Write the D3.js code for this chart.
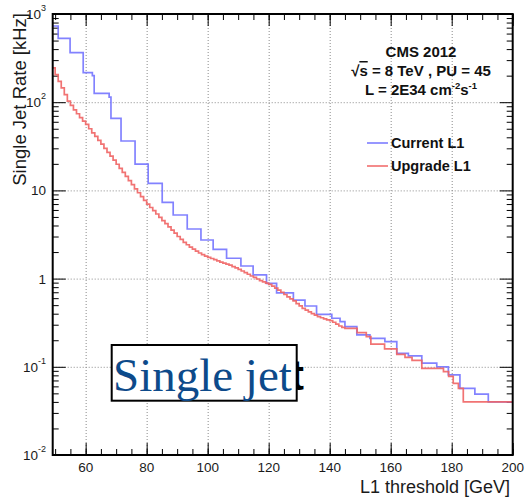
<!DOCTYPE html>
<html>
<head>
<meta charset="utf-8">
<script src="https://cdn.jsdelivr.net/npm/d3@7"></script>
<style>
  body { margin: 0; background: #fff; }
  svg { display: block; font-family: "Liberation Sans", Arial, sans-serif; }
  .grid line { stroke: #8a8a8a; stroke-dasharray: 1,2; stroke-width: 1; }
  .grid .domain, .ticks .domain { display: none; }
  .ticks line { stroke: #000; stroke-width: 1; }
</style>
</head>
<body>
<svg id="chart" width="526" height="499"></svg>
<script>
// ---- data ----
// Upgrade L1 (red): bin low edges [GeV] and rate [kHz]
const redEdges = [49,50,51,52,53,54,55,56,57,58,59,60,61,62,63,64,65,66,67,68,69,70,71,72,73,74,75,76,77,78,79,
  80,81,82,83,84,85,86,87,88,89,90,91,92,93,94,95,96,97,98,99,100,101,102,103,104,105,106,107,108,109,
  110,111,112,113,114,115,116,117,118,119,120,121,122,123,124,125,126,127,128,129,130,131,132,133,134,
  135,136,137,138,139,140,141,142,143,144,145,149,152,153.5,158,162,164.7,167,170.2,177.3,179,180.5,182.2,183.8];
const redRates = [245,205,172,145,122,103,92,82,74,67,61,56,50,45,41,37,33.5,30,27,24.5,22,19.8,17.8,16,14.4,12.9,11.6,10.4,9.4,8.5,7.7,
  7.0,6.4,5.9,5.4,4.95,4.55,4.2,3.85,3.55,3.27,3.0,2.78,2.58,2.42,2.28,2.16,2.05,1.95,1.87,1.80,1.74,1.69,1.64,1.59,1.54,1.50,1.46,1.42,1.37,1.32,
  1.27,1.22,1.17,1.12,1.07,1.03,0.99,0.95,0.92,0.89,0.86,0.82,0.78,0.74,0.70,0.66,0.62,0.59,0.56,0.52,0.49,0.46,0.44,0.42,0.40,
  0.385,0.37,0.36,0.35,0.34,0.333,0.32,0.305,0.29,0.28,0.273,0.244,0.22,0.181,0.16,0.138,0.128,0.118,0.096,0.088,0.078,0.065,0.057,0.040];

// Current L1 (blue)
const blueEdges = [49,51.0,54.9,59.2,62.2,62.8,67.7,68.3,71.6,76.2,80.5,85.1,88.7,93.3,97.8,101.8,106.2,110.9,114.9,
  119.3,122.6,128.1,131.9,135.7,140.7,143.4,145.0,148.9,153.2,158.1,162.0,165.8,170.2,175.1,178.9,182.7,187.6,192.0];
const blueRates = [731,530,364,216,200,126,114,65.6,36.3,19.9,12.0,7.33,5.26,3.65,2.74,2.15,1.70,1.39,1.10,
  0.885,0.69,0.57,0.489,0.394,0.355,0.325,0.285,0.23,0.21,0.193,0.142,0.133,0.11,0.100,0.081,0.057,0.049,0.040];

const xMajor = [60,80,100,120,140,160,180,200];
const xMinor = d3.range(50,201,5);
const yDecades = [-2,-1,0,1,2,3];
const legendNames = ["Current L1","Upgrade L1"];
const legendColors = ["#7474ff","#f06464"];

// ---- layout ----
const W = 526, H = 499;
const margin = {top: 14, right: 13.3, bottom: 44, left: 52.7};
const iw = W - margin.left - margin.right;
const ih = H - margin.top - margin.bottom;

const x = d3.scaleLinear().domain([49.2, 200]).range([margin.left, margin.left + iw]);
const y = d3.scaleLog().domain([0.01, 1000]).range([margin.top + ih, margin.top]);

const svg = d3.select('#chart');

svg.append('defs').append('clipPath').attr('id','plot')
  .append('rect').attr('x', margin.left).attr('y', margin.top).attr('width', iw).attr('height', ih);

// grid
svg.append('g').attr('class','grid')
  .attr('transform', `translate(0,${margin.top + ih})`)
  .call(d3.axisBottom(x).tickValues(xMajor.slice(0,-1)).tickSize(-ih).tickFormat(''));
svg.append('g').attr('class','grid')
  .attr('transform', `translate(${margin.left},0)`)
  .call(d3.axisLeft(y).tickValues([0.1,1,10,100]).tickSize(-iw).tickFormat(''));

// minor y values
const yMinor = [];
yDecades.slice(0,-1).forEach(e => { for (let k = 2; k <= 9; k++) yMinor.push(k * Math.pow(10, e)); });
const yMajor = yDecades.map(e => Math.pow(10, e));

// ticks inside frame (ROOT style)
const tk = (axis, tr) => svg.append('g').attr('class','ticks').attr('transform', tr).call(axis);
tk(d3.axisBottom(x).tickValues(xMajor).tickSize(-12).tickFormat(''), `translate(0,${margin.top+ih})`);
tk(d3.axisBottom(x).tickValues(xMinor).tickSize(-6).tickFormat(''), `translate(0,${margin.top+ih})`);
tk(d3.axisTop(x).tickValues(xMajor).tickSize(-12).tickFormat(''), `translate(0,${margin.top})`);
tk(d3.axisTop(x).tickValues(xMinor).tickSize(-6).tickFormat(''), `translate(0,${margin.top})`);
tk(d3.axisLeft(y).tickValues(yMajor).tickSize(-13).tickFormat(''), `translate(${margin.left},0)`);
tk(d3.axisLeft(y).tickValues(yMinor).tickSize(-6).tickFormat(''), `translate(${margin.left},0)`);
tk(d3.axisRight(y).tickValues(yMajor).tickSize(-13).tickFormat(''), `translate(${margin.left+iw},0)`);
tk(d3.axisRight(y).tickValues(yMinor).tickSize(-6).tickFormat(''), `translate(${margin.left+iw},0)`);

// histograms
const line = d3.line().x(d => x(d[0])).y(d => y(d[1])).curve(d3.curveStepAfter);
const steps = (edges, rates) => {
  const pts = edges.map((e, i) => [e, rates[i]]);
  pts.push([200, rates[rates.length - 1]]);
  return pts;
};
const hg = svg.append('g').attr('clip-path','url(#plot)');
hg.append('path').attr('d', line(steps(blueEdges, blueRates)))
  .attr('fill','none').attr('stroke', legendColors[0]).attr('stroke-width', 1.7).attr('stroke-opacity', 0.9);
hg.append('path').attr('d', line(steps(redEdges, redRates)))
  .attr('fill','none').attr('stroke', legendColors[1]).attr('stroke-width', 1.7).attr('stroke-opacity', 0.9);

// frame
svg.append('rect').attr('x', margin.left).attr('y', margin.top).attr('width', iw).attr('height', ih)
  .attr('fill','none').attr('stroke','#000').attr('stroke-width', 2);

// x tick labels
svg.append('g').selectAll('text').data(xMajor).join('text')
  .attr('x', d => x(d)).attr('y', 472)
  .attr('text-anchor','middle').attr('font-size', 13.5).attr('fill','#1a1a1a')
  .text(d => d);

// y tick labels
const yl = svg.append('g').attr('font-size', 13.5).attr('fill','#1a1a1a');
yDecades.forEach(e => {
  const t = yl.append('text').attr('x', 46).attr('y', y(Math.pow(10, e)) + 5).attr('text-anchor','end');
  if (e === 0) t.text('1');
  else if (e === 1) t.text('10');
  else {
    t.append('tspan').text('10');
    t.append('tspan').attr('dy', -8).attr('font-size', 9).text(e);
  }
});

// axis titles
svg.append('text').attr('x', 510).attr('y', 493).attr('text-anchor','end')
  .attr('font-size', 18).attr('fill','#1a1a1a').text('L1 threshold [GeV]');
svg.append('text').attr('transform','translate(25.5,13) rotate(-90)').attr('text-anchor','end')
  .attr('font-size', 18.5).attr('fill','#1a1a1a').text('Single Jet Rate [kHz]');

// header text
const hdr = svg.append('g').attr('font-weight','bold').attr('font-size', 15).attr('fill','#111').attr('text-anchor','middle');
hdr.append('text').attr('x', 421).attr('y', 57).text('CMS 2012');
const l2 = hdr.append('text').attr('x', 421).attr('y', 76);
l2.append('tspan').text('√');
l2.append('tspan').attr('text-decoration','overline').text('s');
l2.append('tspan').text(' = 8 TeV , PU = 45');
const l3 = hdr.append('text').attr('x', 421).attr('y', 95);
l3.append('tspan').text('L = 2E34 cm');
l3.append('tspan').attr('dy', -6).attr('font-size', 9.5).text('-2');
l3.append('tspan').attr('dy', 6).text('s');
l3.append('tspan').attr('dy', -6).attr('font-size', 9.5).text('-1');

// legend
const lg = svg.append('g').selectAll('g').data(legendNames).join('g')
  .attr('transform', (d, i) => `translate(0,${143 + i * 23})`);
lg.append('line').attr('x1', 367).attr('x2', 388).attr('y1', 0).attr('y2', 0)
  .attr('stroke', (d, i) => legendColors[i]).attr('stroke-width', 1.5);
lg.append('text').attr('x', 391).attr('y', 5).attr('font-weight','bold').attr('font-size', 14.5)
  .attr('fill','#111').text(d => d);

// "Single jet" overlay box
svg.append('text').attr('x', 290).attr('y', 390).attr('font-weight','bold').attr('font-size', 42)
  .attr('fill','#000').text('t');
svg.append('rect').attr('x', 111.7).attr('y', 345).attr('width', 185).attr('height', 55.7)
  .attr('fill','#fff').attr('stroke','#000').attr('stroke-width', 2);
svg.append('text').attr('x', 113).attr('y', 391).attr('font-family','"Liberation Serif", serif')
  .attr('font-size', 47).attr('fill','#0d4a8a').text('Single jet');
</script>
</body>
</html>
